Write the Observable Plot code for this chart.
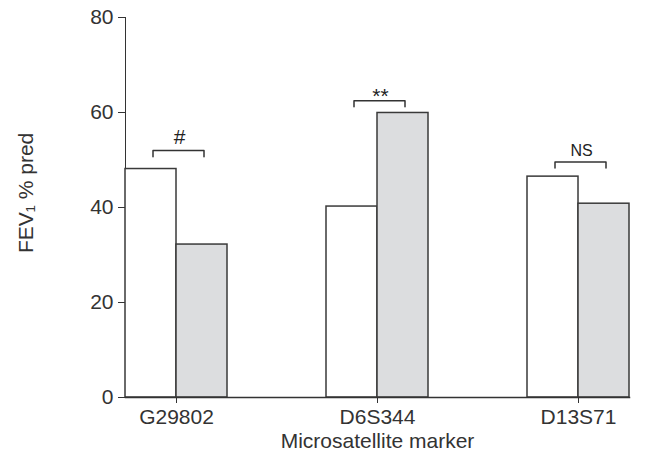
<!DOCTYPE html>
<html><head><meta charset="utf-8">
<script src="https://cdn.jsdelivr.net/npm/d3@7"></script>
<script src="https://cdn.jsdelivr.net/npm/@observablehq/plot@0.6"></script>
<style>body{margin:0;background:#fff}</style>
</head><body><div id="chart"></div>
<script>
const markers = ["G29802", "D6S344", "D13S71"];
const groups = ["first", "second"];
const firstValues = [48.1, 40.2, 46.5];
const secondValues = [32.2, 59.9, 40.8];
const sigLabels = ["#", "**", "NS"];
const bracketTops = [52.0, 62.5, 49.6];
const bracketDrop = 1.3;
const labelBaselines = [53.3, 62.0, 50.9];
const yTicks = [0, 20, 40, 60, 80];

const bars = markers.flatMap((m, i) => [
  {marker: m, group: groups[0], value: firstValues[i]},
  {marker: m, group: groups[1], value: secondValues[i]}
]);
const brackets = markers.flatMap((m, i) => [
  {marker: m, group: groups[0], y: bracketTops[i] - bracketDrop},
  {marker: m, group: groups[0], y: bracketTops[i]},
  {marker: m, group: groups[1], y: bracketTops[i]},
  {marker: m, group: groups[1], y: bracketTops[i] - bracketDrop}
]);
const labels = markers.map((m, i) => ({marker: m, label: sigLabels[i], y: labelBaselines[i], size: sigLabels[i] === "NS" ? 16 : 21}));

const chart = Plot.plot({
  width: 664, height: 456,
  marginLeft: 90, marginRight: 0, marginTop: 17, marginBottom: 59,
  style: {fontFamily: "'Liberation Sans', Arial, sans-serif", fontSize: "21px", color: "#333", background: "#fff"},
  fx: {domain: markers, paddingInner: 0.4925, paddingOuter: 0.174, label: "Microsatellite marker", labelAnchor: "center", tickSize: 6, tickPadding: 6, labelOffset: 50},
  x: {domain: groups, padding: 0, axis: null},
  y: {domain: [0, 80], ticks: yTicks, tickSize: 7, tickPadding: 5, line: true, label: "\u00a0\u00a0\u00a0\u00a0\u00a0FEV₁ % pred", labelArrow: "none", labelAnchor: "center", labelOffset: 107},
  color: {domain: groups, range: ["#ffffff", "#dcdddf"]},
  marks: [
    Plot.barY(bars, {fx: "marker", x: "group", y: "value", fill: "group", stroke: "#3a3a3a", strokeWidth: 1.5}),
    Plot.frame({anchor: "bottom", facet: "super", stroke: "#333", strokeWidth: 1.5}),
    Plot.line(brackets, {fx: "marker", x: "group", y: "y", z: "marker", stroke: "#333", strokeWidth: 1.5, dx: 2}),
    Plot.text(labels, {fx: "marker", y: "y", text: "label", fontSize: "size", lineAnchor: "bottom", dx: 3, fill: "#222"})
  ]
});
document.getElementById("chart").appendChild(chart);
</script>
</body></html>
